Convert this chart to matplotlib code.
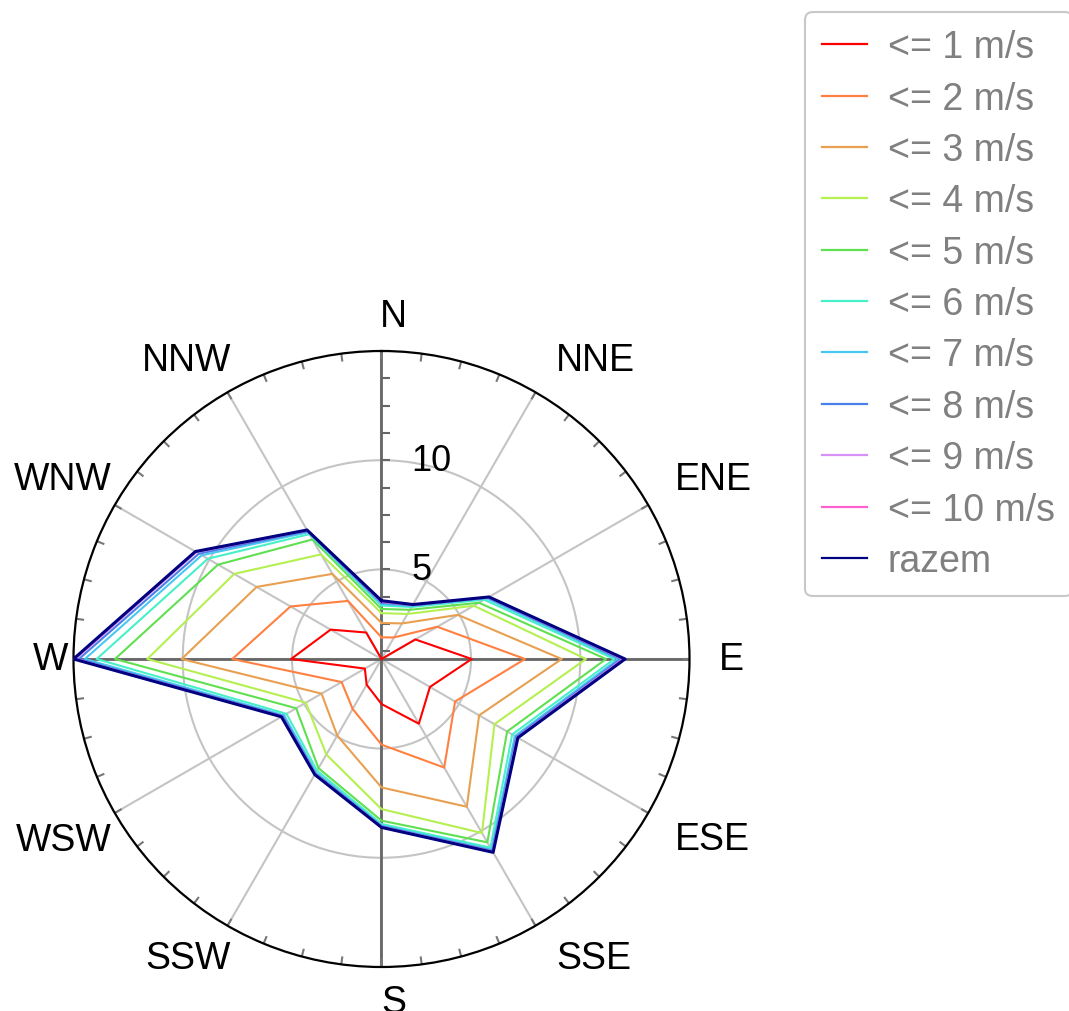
import numpy as np
import matplotlib
matplotlib.use('Agg')
import matplotlib.pyplot as plt
from matplotlib.ticker import FixedLocator
import matplotlib.transforms as mtransforms
from matplotlib.lines import Line2D

plt.rcParams['font.family'] = ['Liberation Sans', 'DejaVu Sans']

# ---------------- data ----------------
directions = ['N', 'NNE', 'ENE', 'E', 'ESE', 'SSE', 'S', 'SSW', 'WSW', 'W', 'WNW', 'NNW']

series_labels = ['<= 1 m/s', '<= 2 m/s', '<= 3 m/s', '<= 4 m/s', '<= 5 m/s',
                 '<= 6 m/s', '<= 7 m/s', '<= 8 m/s', '<= 9 m/s', '<= 10 m/s', 'razem']

v1 = [0.9, 0.9, 2.69, 5.03, 3.46, 4.32, 2.96, 2.26, 1.78, 5.04, 3.59, 2.30]
v2 = [1.89, 2.04, 3.85, 7.47, 4.79, 6.64, 4.82, 3.54, 3.01, 7.73, 5.71, 3.97]
v3 = [2.55, 2.78, 4.94, 9.15, 6.06, 8.71, 6.78, 4.95, 4.07, 10.05, 7.50, 5.40]
v4 = [3.00, 3.28, 5.78, 10.26, 6.87, 10.10, 7.77, 5.95, 4.90, 11.62, 8.69, 6.43]
v5 = [3.19, 3.50, 6.05, 11.18, 7.54, 10.59, 8.30, 6.67, 5.41, 13.10, 9.54, 7.22]
v6 = [3.35, 3.65, 6.33, 11.56, 7.81, 10.87, 8.45, 6.80, 5.92, 13.94, 10.08, 7.50]
v7 = [3.42, 3.70, 6.45, 11.74, 7.95, 10.98, 8.52, 6.90, 6.05, 14.48, 10.40, 7.60]
v8 = [3.48, 3.74, 6.52, 11.85, 8.02, 11.04, 8.56, 6.95, 6.12, 14.75, 10.55, 7.66]
v9 = [3.52, 3.76, 6.55, 11.95, 8.07, 11.08, 8.59, 6.98, 6.16, 14.90, 10.68, 7.70]
v10 = [3.53, 3.77, 6.57, 12.00, 8.09, 11.10, 8.60, 7.00, 6.18, 14.97, 10.72, 7.71]
razem = [3.57, 3.78, 6.58, 12.05, 8.11, 11.12, 8.61, 7.01, 6.19, 15.00, 10.74, 7.72]

all_series = [v1, v2, v3, v4, v5, v6, v7, v8, v9, v10, razem]

colors = ['#ff0000', '#ff8040', '#e8a050', '#b4f050', '#60e050', '#48f0c8',
          '#48c8f0', '#4a80e8', '#d890f8', '#ff60d0', '#000080']

radial_labels = [5, 10]
r_min, r_max = 0.9, 15.0

# ---------------- figure ----------------
W, H = 1069, 1012
fig = plt.figure(figsize=(W / 100, H / 100), dpi=100)
cx, cy, R = 381.5, 660.0, 308.0
ax = fig.add_axes([(cx - R) / W, 1 - (cy + R) / H, 2 * R / W, 2 * R / H],
                  projection='polar')
ax.set_theta_zero_location('N')
ax.set_theta_direction(-1)
ax.set_ylim(r_min, r_max)

n = len(directions)
theta = np.deg2rad(np.arange(n) * 360.0 / n)
px_per_unit = R / (r_max - r_min)

# grids
ax.xaxis.set_major_locator(FixedLocator(theta))
ax.set_xticklabels([])
ax.set_yticks(radial_labels)
ax.set_yticklabels([])
ax.grid(True, which='major', color='#c4c4c4', lw=1.5)
ax.tick_params(axis='both', which='both', length=0)
ax.spines['polar'].set_color('black')
ax.spines['polar'].set_linewidth(1.6)
ax.set_axisbelow(True)

# outer ring tick marks every 7.5 degrees (pointing inward)
ring_ticks = np.deg2rad(np.arange(0, 360, 7.5))
tick_len = 8.0 / px_per_unit
for a in ring_ticks:
    ax.plot([a, a], [r_max - tick_len, r_max], color='#777777', lw=1.5,
            zorder=2.5, solid_capstyle='butt')

# dark main axes (N-S, E-W)
for a in theta[::3]:
    ax.axvline(a, color='#666666', lw=2.0, zorder=1.5)

# radial minor tick marks on N axis
rticks = np.arange(1.25, r_max + 0.01, 1.25)
ax.plot(np.zeros_like(rticks), rticks, ls='none', marker=1, markersize=6.5,
        markeredgewidth=1.5, color='#666666', zorder=1.6, clip_on=False)

# data lines
for vals, lab, col in zip(all_series, series_labels, colors):
    vv = np.maximum(np.array(vals, dtype=float), r_min)
    tt = np.append(theta, theta[0])
    vv = np.append(vv, vv[0])
    lw = 2.2 if lab == 'razem' else 1.5
    ax.plot(tt, vv, color=col, lw=lw, label=lab, zorder=3)

# theta labels
R_lab = r_min + 325.0 / px_per_unit
shift = mtransforms.ScaledTranslation(12 / 100, 0, fig.dpi_scale_trans)
for t, lab in zip(theta, directions):
    s, c = np.sin(t), np.cos(t)
    ha = 'center' if abs(s) < 1e-6 else ('left' if s > 0 else 'right')
    va = 'center' if abs(c) < 1e-6 else ('bottom' if c > 0 else 'top')
    ax.text(t, R_lab, lab, ha=ha, va=va, fontsize=27, color='black',
            transform=ax.transData + shift, clip_on=False)

# radial labels
rshift = mtransforms.ScaledTranslation(30 / 100, 0, fig.dpi_scale_trans)
for rv in radial_labels:
    ax.text(0, rv, str(rv), ha='left', va='center', fontsize=26, color='black',
            transform=ax.transData + rshift, zorder=4)

# legend
handles = [Line2D([], [], color=c, lw=1.6) for c in colors]
leg = fig.legend(handles, series_labels, loc='upper left',
                 bbox_to_anchor=(805 / W, 1 - 13 / H), borderaxespad=0,
                 fontsize=27, labelcolor='#808080', frameon=True, fancybox=True,
                 edgecolor='#c8c8c8', framealpha=1, handlelength=1.2,
                 handletextpad=0.55, labelspacing=0.41, borderpad=0.46)
leg.get_frame().set_linewidth(1.5)

fig.savefig('out.png', dpi=100)
